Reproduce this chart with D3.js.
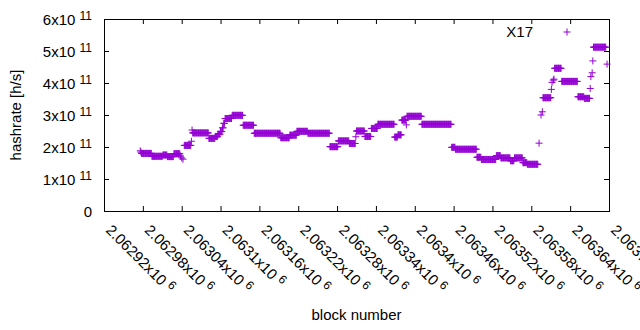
<!DOCTYPE html>
<html>
<head>
<meta charset="utf-8">
<script src="https://cdn.jsdelivr.net/npm/d3@7/dist/d3.min.js"></script>
<style>
body { margin: 0; background: #fff; }
svg { display: block; font-family: 'Liberation Sans', Arial, sans-serif; }
</style>
</head>
<body>
<div id="chart"></div>
<script>
/*global d3: false*/

// Blocks sharing one hashrate estimate: first block, last block, value [h/s]
var runFirst = [
    2062976, 2062977, 2062978, 2062994, 2063011, 2063018, 2063028, 2063038, 2063040, 2063042,
    2063044, 2063055, 2063056, 2063057, 2063082, 2063092, 2063096, 2063100, 2063103, 2063105,
    2063107, 2063118, 2063135, 2063152, 2063193, 2063207, 2063218, 2063235, 2063269, 2063282,
    2063299, 2063309, 2063310, 2063323, 2063333, 2063343, 2063369, 2063374, 2063380, 2063387,
    2063388, 2063411, 2063457, 2063463, 2063496, 2063503, 2063526, 2063533, 2063548, 2063554,
    2063567, 2063574, 2063592, 2063595, 2063597, 2063598, 2063611, 2063612, 2063614, 2063615,
    2063616, 2063627, 2063652, 2063662, 2063671, 2063672, 2063674, 2063675, 2063676, 2063697
];
var runLast = [
    2062976, 2062977, 2062993, 2063010, 2063017, 2063027, 2063037, 2063038, 2063040, 2063042,
    2063054, 2063055, 2063056, 2063081, 2063091, 2063095, 2063099, 2063102, 2063104, 2063106,
    2063117, 2063134, 2063151, 2063192, 2063206, 2063217, 2063234, 2063268, 2063281, 2063298,
    2063308, 2063309, 2063322, 2063332, 2063342, 2063368, 2063373, 2063379, 2063386, 2063387,
    2063410, 2063456, 2063462, 2063495, 2063502, 2063525, 2063532, 2063547, 2063553, 2063566,
    2063573, 2063590, 2063592, 2063595, 2063597, 2063610, 2063611, 2063612, 2063614, 2063615,
    2063626, 2063651, 2063661, 2063670, 2063671, 2063672, 2063674, 2063675, 2063695, 2063697
];
var runHashrate = [
    1.88e11, 1.84e11, 1.80e11, 1.71e11, 1.75e11, 1.70e11, 1.79e11, 1.72e11, 1.66e11, 1.62e11,
    2.05e11, 2.18e11, 2.53e11, 2.44e11, 2.27e11, 2.33e11, 2.40e11, 2.48e11, 2.60e11, 2.74e11,
    2.89e11, 2.99e11, 2.68e11, 2.43e11, 2.29e11, 2.37e11, 2.49e11, 2.43e11, 2.01e11, 2.19e11,
    2.11e11, 2.32e11, 2.50e11, 2.33e11, 2.58e11, 2.71e11, 2.31e11, 2.38e11, 2.84e11, 2.69e11,
    2.96e11, 2.71e11, 1.99e11, 1.93e11, 1.68e11, 1.61e11, 1.73e11, 1.66e11, 1.57e11, 1.66e11,
    1.51e11, 1.46e11, 2.12e11, 3.00e11, 3.10e11, 3.54e11, 3.80e11, 4.02e11, 4.09e11, 4.12e11,
    4.46e11, 4.05e11, 3.57e11, 3.52e11, 3.83e11, 4.20e11, 4.32e11, 4.69e11, 5.12e11, 4.59e11
];

var xTickValues = [2062920, 2062980, 2063040, 2063100, 2063160, 2063220, 2063280,
                   2063340, 2063400, 2063460, 2063520, 2063580, 2063640, 2063700];
var yTickValues = [0, 1e11, 2e11, 3e11, 4e11, 5e11, 6e11];
var seriesName = 'X17';
var xTitle = 'block number';
var yTitle = 'hashrate [h/s]';

(function() {
    'use strict';
    var width, height, margin, svg, x, y, points, i, b, color, ink, plus, ticks, lab;

    width = 640;
    height = 330;
    margin = {left: 104, right: 31, top: 19, bottom: 119};
    color = '#9400d3';
    ink = '#000';
    plus = 'M-3.5,0H3.5M0,-3.5V3.5';

    svg = d3.select('#chart').append('svg')
        .attr('width', width)
        .attr('height', height);

    x = d3.scaleLinear()
        .domain([xTickValues[0], xTickValues[xTickValues.length - 1]])
        .range([margin.left, width - margin.right]);
    y = d3.scaleLinear()
        .domain([yTickValues[0], yTickValues[yTickValues.length - 1]])
        .range([height - margin.bottom, margin.top]);

    // inward ticks on all four sides, gnuplot style
    ticks = [
        [d3.axisBottom(x), height - margin.bottom, 0],
        [d3.axisTop(x), margin.top, 0],
        [d3.axisLeft(y), 0, margin.left],
        [d3.axisRight(y), 0, width - margin.right]
    ];
    ticks.forEach(function(t, k) {
        var g = svg.append('g')
            .attr('transform', 'translate(' + t[2] + ',' + t[1] + ')')
            .call(t[0].tickValues(k < 2 ? xTickValues : yTickValues)
                .tickSizeInner(-5).tickSizeOuter(0).tickFormat(''));
        g.select('.domain').remove();
        g.selectAll('line').attr('stroke', ink).attr('stroke-width', 1);
    });

    svg.append('rect')
        .attr('x', margin.left + 0.5)
        .attr('y', margin.top + 0.5)
        .attr('width', width - margin.left - margin.right)
        .attr('height', height - margin.top - margin.bottom)
        .attr('fill', 'none')
        .attr('stroke', ink)
        .attr('stroke-width', 1);

    // y tick labels: Nx10^11
    yTickValues.forEach(function(v) {
        lab = svg.append('text')
            .attr('x', margin.left - 12)
            .attr('y', y(v) + 5.5)
            .attr('text-anchor', 'end')
            .attr('font-size', 15)
            .attr('fill', ink);
        if (v === 0) {
            lab.text('0');
            return;
        }
        lab.append('tspan').text((v / 1e11) + 'x10 ');
        lab.append('tspan')
            .attr('font-size', 12)
            .attr('dy', -5)
            .text('11');
    });

    // x tick labels, rotated, Nx10^6
    xTickValues.forEach(function(v) {
        lab = svg.append('text')
            .attr('transform', 'translate(' + (x(v) + 1) + ',' + (height - margin.bottom + 20) + ') rotate(45)')
            .attr('font-size', 15)
            .attr('fill', ink);
        lab.append('tspan').text(parseFloat((v / 1e6).toFixed(5)) + 'x10 ');
        lab.append('tspan')
            .attr('font-size', 12)
            .attr('dy', -5)
            .text('6');
    });

    svg.append('text')
        .attr('transform', 'translate(21,115) rotate(-90)')
        .attr('text-anchor', 'middle')
        .attr('font-size', 15)
        .attr('fill', ink)
        .text(yTitle);
    svg.append('text')
        .attr('x', (margin.left + width - margin.right) / 2)
        .attr('y', 320)
        .attr('text-anchor', 'middle')
        .attr('font-size', 15)
        .attr('fill', ink)
        .text(xTitle);

    // one point per block
    points = [];
    for (i = 0; i < runFirst.length; i++) {
        for (b = runFirst[i]; b <= runLast[i]; b++) {
            points.push({block: b, hashrate: runHashrate[i]});
        }
    }
    svg.append('g').selectAll('path')
        .data(points)
        .enter().append('path')
        .attr('d', plus)
        .attr('transform', function(d) {
            return 'translate(' + x(d.block) + ',' + y(d.hashrate) + ')';
        })
        .attr('fill', 'none')
        .attr('stroke', color)
        .attr('stroke-width', 1);

    // key
    svg.append('text')
        .attr('x', 533)
        .attr('y', 37)
        .attr('text-anchor', 'end')
        .attr('font-size', 15)
        .attr('fill', ink)
        .text(seriesName);
    svg.append('path')
        .attr('d', plus)
        .attr('transform', 'translate(567,32)')
        .attr('fill', 'none')
        .attr('stroke', color)
        .attr('stroke-width', 1);
}());
</script>
</body>
</html>
